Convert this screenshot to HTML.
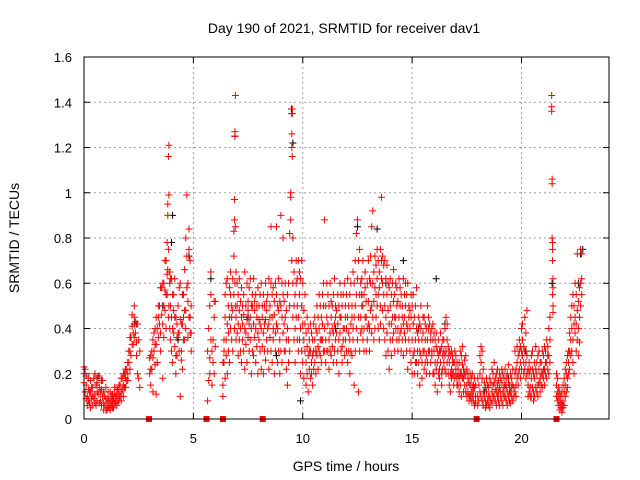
<!DOCTYPE html>
<html><head><meta charset="utf-8"><style>
html,body{margin:0;padding:0;background:#fff;}
svg{display:block;font-family:"Liberation Sans",sans-serif;}
</style></head><body>
<svg id="chart" width="640" height="480" viewBox="0 0 640 480">
<text x="344" y="33" font-size="14" text-anchor="middle">Day 190 of 2021, SRMTID for receiver dav1</text>
<text x="346" y="471" font-size="14" text-anchor="middle">GPS time / hours</text>
<text transform="translate(19,238) rotate(-90)" font-size="14" text-anchor="middle">SRMTID / TECUs</text>
<g id="grid"></g>
<g id="ticks"></g>
<g id="blackPts"></g>
<g id="redPts"></g>
<g id="markers"></g>
<rect x="84" y="57" width="525" height="362" fill="none" stroke="#000" stroke-width="1"/>
</svg>
<script>
const xTicks=[0,5,10,15,20];
const yTicks=[0,0.2,0.4,0.6,0.8,1,1.2,1.4,1.6];
const yTickLabels=["0","0.2","0.4","0.6","0.8","1","1.2","1.4","1.6"];
const gapHours=[2.97,5.6,6.35,8.17,17.95,21.6];
const passA=[[0.0,0.2,0.16,0.23],[0.05,0.22,0.12],[0.1,0.15,0.09,0.19],[0.15,0.1,0.06],[0.2,0.18,0.13,0.08],[0.25,0.07,0.12],[0.3,0.12,0.05,0.17],[0.35,0.09,0.14],[0.4,0.14,0.06,0.1],[0.45,0.09,0.18],[0.5,0.2,0.11,0.07],[0.55,0.06,0.15],[0.6,0.16,0.08,0.12],[0.65,0.11,0.19],[0.7,0.19,0.14,0.07],[0.75,0.08,0.12],[0.8,0.13,0.06,0.17],[0.85,0.17,0.1],[0.9,0.07,0.12,0.04],[0.95,0.1,0.06],[1.0,0.14,0.09,0.04],[1.05,0.04,0.07],[1.1,0.09,0.05,0.12],[1.15,0.05,0.08],[1.2,0.12,0.04,0.07],[1.25,0.06,0.1],[1.3,0.08,0.05,0.11],[1.35,0.05,0.09],[1.4,0.11,0.07,0.14],[1.45,0.07,0.1],[1.5,0.1,0.13,0.06],[1.55,0.13,0.08],[1.6,0.08,0.15,0.11],[1.65,0.15,0.1],[1.7,0.12,0.18,0.08],[1.75,0.18,0.13],[1.8,0.1,0.2,0.15],[1.85,0.2,0.14],[1.9,0.14,0.22,0.18],[1.95,0.22,0.17],[2.0,0.17,0.25,0.2],[2.05,0.25,0.3],[2.1,0.3,0.36,0.22],[2.15,0.36,0.28],[2.2,0.41,0.33,0.46],[2.25,0.33,0.38],[2.3,0.45,0.5,0.36],[2.35,0.38,0.43],[2.4,0.28,0.42,0.34],[2.45,0.42,0.2],[2.5,0.35,0.18],[2.55,0.3,0.14]];
const passB=[[3.0,0.2,0.27],[3.05,0.28,0.22,0.15],[3.1,0.22,0.3],[3.15,0.35,0.27,0.12],[3.2,0.3,0.38],[3.25,0.4,0.33,0.24],[3.3,0.33,0.45,0.11],[3.35,0.25,0.4],[3.4,0.45,0.5,0.36],[3.45,0.5,0.42],[3.5,0.38,0.58,0.3],[3.55,0.58,0.46],[3.6,0.42,0.6,0.18],[3.65,0.6,0.5,0.36],[3.7,0.48,0.7,0.57],[3.75,0.7,0.55,0.4],[3.8,0.55,0.78,0.64],[3.83,0.9,0.95,0.66],[3.86,1.16,0.75,0.45],[3.88,1.21,0.99,0.5],[3.92,0.65,0.6,0.4],[3.95,0.5,0.62,0.35],[4.0,0.62,0.45,0.3],[4.05,0.4,0.55,0.25],[4.1,0.55,0.38,0.48],[4.15,0.32,0.45,0.62],[4.2,0.45,0.28,0.2],[4.25,0.28,0.42,0.36],[4.3,0.5,0.38],[4.35,0.38,0.3,0.58],[4.4,0.6,0.44,0.1],[4.45,0.3,0.42,0.26],[4.5,0.42,0.55,0.22],[4.55,0.55,0.35,0.45],[4.6,0.35,0.48,0.66],[4.65,0.48,0.4,0.8],[4.7,0.99,0.72,0.58],[4.75,0.6,0.52,0.36],[4.8,0.75,0.45,0.84],[4.85,0.45,0.38,0.7],[4.9,0.38,0.5,0.3]];
const passC=[[5.65,0.3,0.08],[5.7,0.4,0.17],[5.75,0.5,0.27,0.2],[5.8,0.65,0.55,0.35],[5.85,0.3,0.15],[5.9,0.35,0.25],[5.95,0.45,0.52,0.2],[6.0,0.32,0.52]];
const passD=[[6.35,0.15,0.25,0.1],[6.4,0.25,0.35,0.3],[6.45,0.18,0.45,0.55],[6.5,0.35,0.6,0.28],[6.55,0.42,0.62,0.2],[6.6,0.5,0.3,0.38],[6.65,0.45,0.58,0.25],[6.7,0.55,0.4,0.65],[6.75,0.35,0.5,0.45],[6.8,0.62,0.48,0.3],[6.85,0.72,0.83,0.55],[6.88,0.88,0.97,0.4],[6.9,1.27,1.25,0.6],[6.92,1.43,0.85,0.5],[6.95,0.65,0.45,0.35],[7.0,0.5,0.38,0.6],[7.05,0.42,0.55,0.28],[7.1,0.48,0.35,0.62],[7.15,0.4,0.52,0.3],[7.2,0.45,0.58,0.25],[7.25,0.35,0.5,0.42],[7.3,0.55,0.3,0.46],[7.35,0.4,0.65,0.22],[7.4,0.5,0.38,0.33],[7.45,0.44,0.6,0.25],[7.5,0.36,0.52,0.48],[7.55,0.58,0.42,0.3],[7.6,0.45,0.35,0.62],[7.65,0.4,0.5,0.2],[7.7,0.5,0.3,0.55],[7.75,0.42,0.62,0.28],[7.8,0.36,0.48,0.52],[7.85,0.55,0.4,0.25],[7.9,0.45,0.32,0.5],[7.95,0.38,0.58,0.2],[8.0,0.5,0.35,0.44],[8.05,0.42,0.55,0.3],[8.1,0.6,0.4,0.22],[8.15,0.45,0.32,0.5],[8.2,0.38,0.55,0.2],[8.25,0.5,0.3,0.42],[8.3,0.44,0.6,0.26],[8.35,0.35,0.48,0.52],[8.4,0.55,0.4,0.3],[8.45,0.42,0.62,0.22],[8.5,0.36,0.5,0.45],[8.55,0.6,0.3,0.85],[8.6,0.45,0.55,0.25],[8.65,0.4,0.35,0.58],[8.7,0.52,0.2,0.46],[8.75,0.3,0.6,0.38],[8.8,0.55,0.42,0.85],[8.85,0.4,0.25,0.5],[8.9,0.62,0.48,0.3],[8.95,0.35,0.52,0.2],[9.0,0.5,0.3,0.9],[9.05,0.45,0.6,0.25],[9.1,0.38,0.55,0.8],[9.15,0.52,0.3,0.42],[9.2,0.3,0.45,0.6],[9.25,0.48,0.22,0.35],[9.3,0.4,0.55,0.15],[9.35,0.6,0.35,0.25],[9.4,0.5,0.82,0.3],[9.45,0.88,1.0,0.98],[9.5,1.2,1.26,0.7],[9.52,1.35,1.37,1.16],[9.55,0.6,0.8,0.45],[9.6,0.65,0.5,0.35],[9.65,0.55,0.4,0.25],[9.7,0.6,0.45,0.7],[9.75,0.5,0.35,0.62],[9.8,0.45,0.7,0.3],[9.85,0.35,0.55,0.65],[9.9,0.62,0.4,0.2],[9.95,0.3,0.5,0.7],[10.0,0.42,0.6,0.25],[10.05,0.35,0.48,0.18],[10.1,0.3,0.42,0.55],[10.15,0.25,0.38,0.15],[10.2,0.32,0.2,0.45],[10.25,0.28,0.4,0.12],[10.3,0.22,0.35,0.3],[10.35,0.3,0.18,0.42],[10.4,0.25,0.38,0.2],[10.45,0.35,0.28,0.15],[10.5,0.3,0.42,0.22]];
const passE=[[10.55,0.25,0.35,0.45],[10.6,0.3,0.2,0.4],[10.65,0.38,0.28,0.5],[10.7,0.32,0.45,0.22],[10.75,0.4,0.3,0.55],[10.8,0.28,0.5,0.35],[10.85,0.45,0.35,0.25],[10.9,0.35,0.55,0.42],[10.95,0.5,0.3,0.6],[11.0,0.88,0.4,0.3],[11.05,0.35,0.5,0.25],[11.1,0.45,0.3,0.6],[11.15,0.3,0.42,0.55],[11.2,0.5,0.35,0.22],[11.25,0.38,0.6,0.3],[11.3,0.45,0.28,0.52],[11.35,0.32,0.5,0.4],[11.4,0.55,0.38,0.25],[11.45,0.42,0.3,0.62],[11.5,0.35,0.5,0.45],[11.55,0.48,0.25,0.38],[11.6,0.3,0.55,0.42],[11.65,0.5,0.35,0.2],[11.7,0.38,0.6,0.45],[11.75,0.45,0.3,0.55],[11.8,0.32,0.5,0.25],[11.85,0.55,0.4,0.35],[11.9,0.4,0.28,0.6],[11.95,0.5,0.35,0.45],[12.0,0.3,0.55,0.4],[12.05,0.45,0.25,0.62],[12.1,0.38,0.5,0.3],[12.15,0.55,0.35,0.2],[12.2,0.42,0.6,0.3],[12.25,0.5,0.28,0.45],[12.3,0.35,0.65,0.4],[12.35,0.6,0.45,0.15],[12.4,0.5,0.7,0.3],[12.45,0.82,0.55,0.4],[12.5,0.88,0.62,0.35],[12.55,0.7,0.45,0.12],[12.6,0.55,0.75,0.3],[12.65,0.45,0.6,0.38],[12.7,0.62,0.4,0.5],[12.75,0.5,0.35,0.7],[12.8,0.4,0.55,0.3],[12.85,0.58,0.45,0.65],[12.9,0.45,0.3,0.52],[12.95,0.35,0.6,0.4],[13.0,0.52,0.42,0.7],[13.05,0.4,0.62,0.3],[13.1,0.6,0.48,0.72],[13.15,0.85,0.5,0.38],[13.2,0.92,0.6,0.45],[13.25,0.65,0.52,0.35],[13.3,0.72,0.58,0.4],[13.35,0.55,0.68,0.45],[13.4,0.62,0.5,0.75],[13.45,0.7,0.4,0.55],[13.5,0.58,0.65,0.35],[13.55,0.75,0.5,0.42],[13.6,0.98,0.62,0.7],[13.65,0.6,0.48,0.72],[13.7,0.68,0.55,0.4],[13.75,0.5,0.7,0.35],[13.8,0.62,0.45,0.28],[13.85,0.55,0.38,0.68],[13.9,0.48,0.6,0.3],[13.95,0.58,0.42,0.22],[14.0,0.5,0.35,0.62],[14.05,0.42,0.55,0.28],[14.1,0.6,0.45,0.35],[14.15,0.38,0.52,0.66],[14.2,0.55,0.3,0.45],[14.25,0.45,0.6,0.4],[14.3,0.35,0.5,0.58],[14.35,0.52,0.4,0.3],[14.4,0.45,0.62,0.35],[14.45,0.58,0.38,0.5],[14.5,0.4,0.55,0.3],[14.55,0.5,0.35,0.45],[14.6,0.62,0.42,0.28],[14.65,0.45,0.55,0.38],[14.7,0.35,0.5,0.6],[14.75,0.55,0.42,0.3],[14.8,0.4,0.6,0.22],[14.85,0.5,0.35,0.45],[14.9,0.3,0.48,0.4],[14.95,0.45,0.25,0.55],[15.0,0.35,0.5,0.2],[15.05,0.42,0.28,0.55],[15.1,0.3,0.45,0.2],[15.15,0.5,0.35,0.25],[15.2,0.25,0.4,0.58],[15.25,0.38,0.3,0.2],[15.3,0.45,0.25,0.35],[15.35,0.3,0.42,0.15],[15.4,0.4,0.28,0.5],[15.45,0.25,0.35,0.18],[15.5,0.38,0.3,0.45],[15.55,0.3,0.45,0.22],[15.6,0.42,0.25,0.35],[15.65,0.28,0.4,0.2],[15.7,0.35,0.5,0.25],[15.75,0.4,0.3,0.45],[15.8,0.3,0.42,0.2],[15.85,0.38,0.25,0.35],[15.9,0.28,0.4,0.3],[15.95,0.35,0.2,0.42],[16.0,0.3,0.38,0.2],[16.05,0.25,0.35,0.15],[16.1,0.32,0.22,0.38],[16.15,0.25,0.3,0.12],[16.2,0.35,0.2,0.28],[16.25,0.22,0.3,0.18],[16.3,0.3,0.25,0.38],[16.35,0.2,0.32,0.15],[16.4,0.28,0.22,0.35],[16.45,0.35,0.25,0.3],[16.5,0.4,0.28,0.22],[16.55,0.3,0.45,0.2],[16.6,0.35,0.25,0.42],[16.65,0.28,0.32,0.2],[16.7,0.25,0.3,0.15],[16.75,0.2,0.28,0.12],[16.8,0.22,0.3,0.18],[16.85,0.28,0.2,0.25],[16.9,0.2,0.25,0.15],[16.95,0.25,0.18,0.3],[17.0,0.2,0.28,0.22],[17.05,0.18,0.25,0.15],[17.1,0.22,0.15,0.2],[17.15,0.25,0.18,0.12],[17.2,0.3,0.2,0.15],[17.25,0.2,0.28,0.1],[17.3,0.24,0.18,0.32],[17.35,0.18,0.22,0.12],[17.4,0.26,0.15,0.2],[17.45,0.2,0.12,0.28],[17.5,0.15,0.22,0.1],[17.55,0.2,0.12,0.18],[17.6,0.1,0.16,0.08],[17.65,0.15,0.1,0.2],[17.7,0.12,0.18,0.08],[17.75,0.2,0.1,0.14],[17.8,0.08,0.15,0.12],[17.85,0.14,0.06,0.18],[17.9,0.1,0.15,0.07]];
const passF=[[18.0,0.1,0.06,0.18],[18.05,0.15,0.08],[18.1,0.2,0.12,0.28],[18.15,0.25,0.1,0.32],[18.2,0.18,0.08,0.3],[18.25,0.12,0.22,0.06],[18.3,0.16,0.1],[18.35,0.08,0.14,0.05],[18.4,0.12,0.06,0.18],[18.45,0.08,0.15],[18.5,0.14,0.06,0.1],[18.55,0.1,0.18,0.05],[18.6,0.16,0.08],[18.65,0.12,0.22,0.07],[18.7,0.2,0.1,0.15],[18.75,0.1,0.16,0.25],[18.8,0.18,0.08,0.13],[18.85,0.12,0.2,0.06],[18.9,0.15,0.1,0.22],[18.95,0.08,0.17,0.12],[19.0,0.14,0.06,0.2],[19.05,0.1,0.18,0.12],[19.1,0.16,0.08,0.22],[19.15,0.12,0.2,0.06],[19.2,0.18,0.1,0.14],[19.25,0.1,0.15,0.22],[19.3,0.14,0.08,0.18],[19.35,0.2,0.12,0.06],[19.4,0.1,0.16,0.24],[19.45,0.15,0.08,0.12],[19.5,0.12,0.2,0.07],[19.55,0.18,0.1,0.14],[19.6,0.08,0.15,0.22],[19.65,0.14,0.1],[19.7,0.2,0.12,0.3],[19.75,0.15,0.22,0.1],[19.8,0.25,0.18,0.32],[19.85,0.2,0.28,0.15],[19.9,0.3,0.22,0.35],[19.95,0.25,0.32,0.18],[20.0,0.3,0.22,0.4],[20.05,0.35,0.28,0.42],[20.1,0.25,0.32,0.2],[20.15,0.3,0.45,0.22],[20.2,0.25,0.18,0.38],[20.25,0.2,0.28,0.48],[20.3,0.15,0.22,0.1],[20.35,0.2,0.12,0.25],[20.4,0.14,0.22,0.1],[20.45,0.18,0.1,0.28],[20.5,0.22,0.14,0.3],[20.55,0.12,0.2,0.08],[20.6,0.18,0.25,0.1],[20.65,0.14,0.22,0.32],[20.7,0.2,0.12,0.25],[20.75,0.15,0.28,0.1],[20.8,0.22,0.16,0.3],[20.85,0.18,0.25,0.12],[20.9,0.25,0.15,0.2],[20.95,0.2,0.3,0.14],[21.0,0.28,0.18,0.22],[21.05,0.22,0.32,0.15],[21.1,0.3,0.2,0.25],[21.15,0.25,0.35,0.18],[21.2,0.32,0.22,0.28],[21.25,0.28,0.4,0.2],[21.3,0.35,0.25,0.45]];
const passG=[[21.38,1.43,1.38,1.36],[21.4,1.06,1.04,0.8],[21.42,0.78,0.75,0.7,0.55],[21.44,0.62,0.58,0.5,0.47]];
const passH=[[21.6,0.15,0.2,0.1],[21.65,0.12,0.08,0.18],[21.7,0.06,0.1,0.14],[21.75,0.04,0.08,0.12],[21.8,0.05,0.1,0.07],[21.85,0.03,0.06,0.12],[21.9,0.08,0.05,0.15],[21.95,0.12,0.18,0.06],[22.0,0.15,0.22,0.1],[22.05,0.2,0.12,0.25],[22.1,0.18,0.28,0.14],[22.15,0.25,0.3,0.2],[22.2,0.3,0.22,0.38],[22.25,0.45,0.35,0.28],[22.3,0.4,0.5,0.3],[22.35,0.35,0.55,0.25],[22.4,0.5,0.42,0.2],[22.45,0.45,0.38,0.6],[22.5,0.55,0.3,0.42],[22.55,0.48,0.35,0.73],[22.6,0.52,0.4,0.28],[22.65,0.58,0.45,0.34],[22.7,0.6,0.5,0.75],[22.75,0.55,0.73,0.62]];
const blackHours=[0.6,1.3,2.3,3.6,4.0,4.05,4.3,4.8,5.8,6.9,7.5,8.8,9.5,9.55,9.48,9.9,10.6,11.5,12.5,12.7,13.4,13.8,14.6,15.3,16.1,16.5,17.2,18.3,19.4,20.2,21.4,22.6,22.8,22.7];
const blackValues=[0.18,0.08,0.42,0.5,0.78,0.9,0.35,0.72,0.62,1.25,0.45,0.28,1.35,1.22,1.37,0.08,0.3,0.4,0.85,0.55,0.84,0.6,0.7,0.4,0.62,0.42,0.2,0.12,0.18,0.3,0.6,0.6,0.75,0.73];

const NS="http://www.w3.org/2000/svg";
const X0=84,X1=609,Y0=419,Y1=57;
function xScale(h){return X0+(h/24)*(X1-X0);}
function yScale(v){return Y0-(v/1.6)*(Y0-Y1);}
function mk(tag,attrs,parent){const e=document.createElementNS(NS,tag);for(const k in attrs)e.setAttribute(k,attrs[k]);parent.appendChild(e);return e;}

const grid=document.getElementById('grid'),ticks=document.getElementById('ticks');
xTicks.forEach(t=>{
  const x=xScale(t);
  if(t>0){const g=mk('line',{x1:x,x2:x,y1:Y1,y2:Y0,stroke:'#a0a0a0','stroke-dasharray':'2,3'},grid);
  
  }
  const a=mk('line',{x1:x,x2:x,y1:Y0,y2:Y0-6,stroke:'#000'},ticks);
  
  
  const b=mk('line',{x1:x,x2:x,y1:Y1,y2:Y1+6,stroke:'#000'},ticks);
  
  
  const l=mk('text',{x:x,y:443,'font-size':13,'text-anchor':'middle'},ticks);
  l.textContent=String(t);
  
  
});
yTicks.forEach((t,i)=>{
  const y=yScale(t);
  if(i>0&&i<yTicks.length-1){const g=mk('line',{x1:X0,x2:X1,y1:y,y2:y,stroke:'#a0a0a0','stroke-dasharray':'2,3'},grid);
  
  }
  const a=mk('line',{x1:X0,x2:X0+6,y1:y,y2:y,stroke:'#000'},ticks);
  
  
  const b=mk('line',{x1:X1,x2:X1-6,y1:y,y2:y,stroke:'#000'},ticks);
  
  
  const l=mk('text',{x:72,y:y+5,'font-size':13,'text-anchor':'end'},ticks);
  l.textContent=yTickLabels[i];
  
  
});
function plus(h,v,color,parent,name){
  const x=xScale(h),y=yScale(v);
  const p=mk('path',{d:`M${x-3.5},${y}h7M${x},${y-3.5}v7`,stroke:color,'stroke-width':1,fill:'none'},parent);
  
  
}
const bg=document.getElementById('blackPts');
blackHours.forEach((h,i)=>plus(h,blackValues[i],'#000',bg,'black-point'));
const rg=document.getElementById('redPts');
[passA,passB,passC,passD,passE,passF,passG,passH].forEach(pass=>{
  pass.forEach(row=>{for(let k=1;k<row.length;k++)plus(row[0],row[k],'#ff0000',rg,'red-point');});
});
const mg=document.getElementById('markers');
gapHours.forEach(h=>{
  const r=mk('rect',{x:xScale(h)-3,y:Y0-3,width:6,height:6,fill:'#ff0000'},mg);
  
  
});
</script>
</body></html>
